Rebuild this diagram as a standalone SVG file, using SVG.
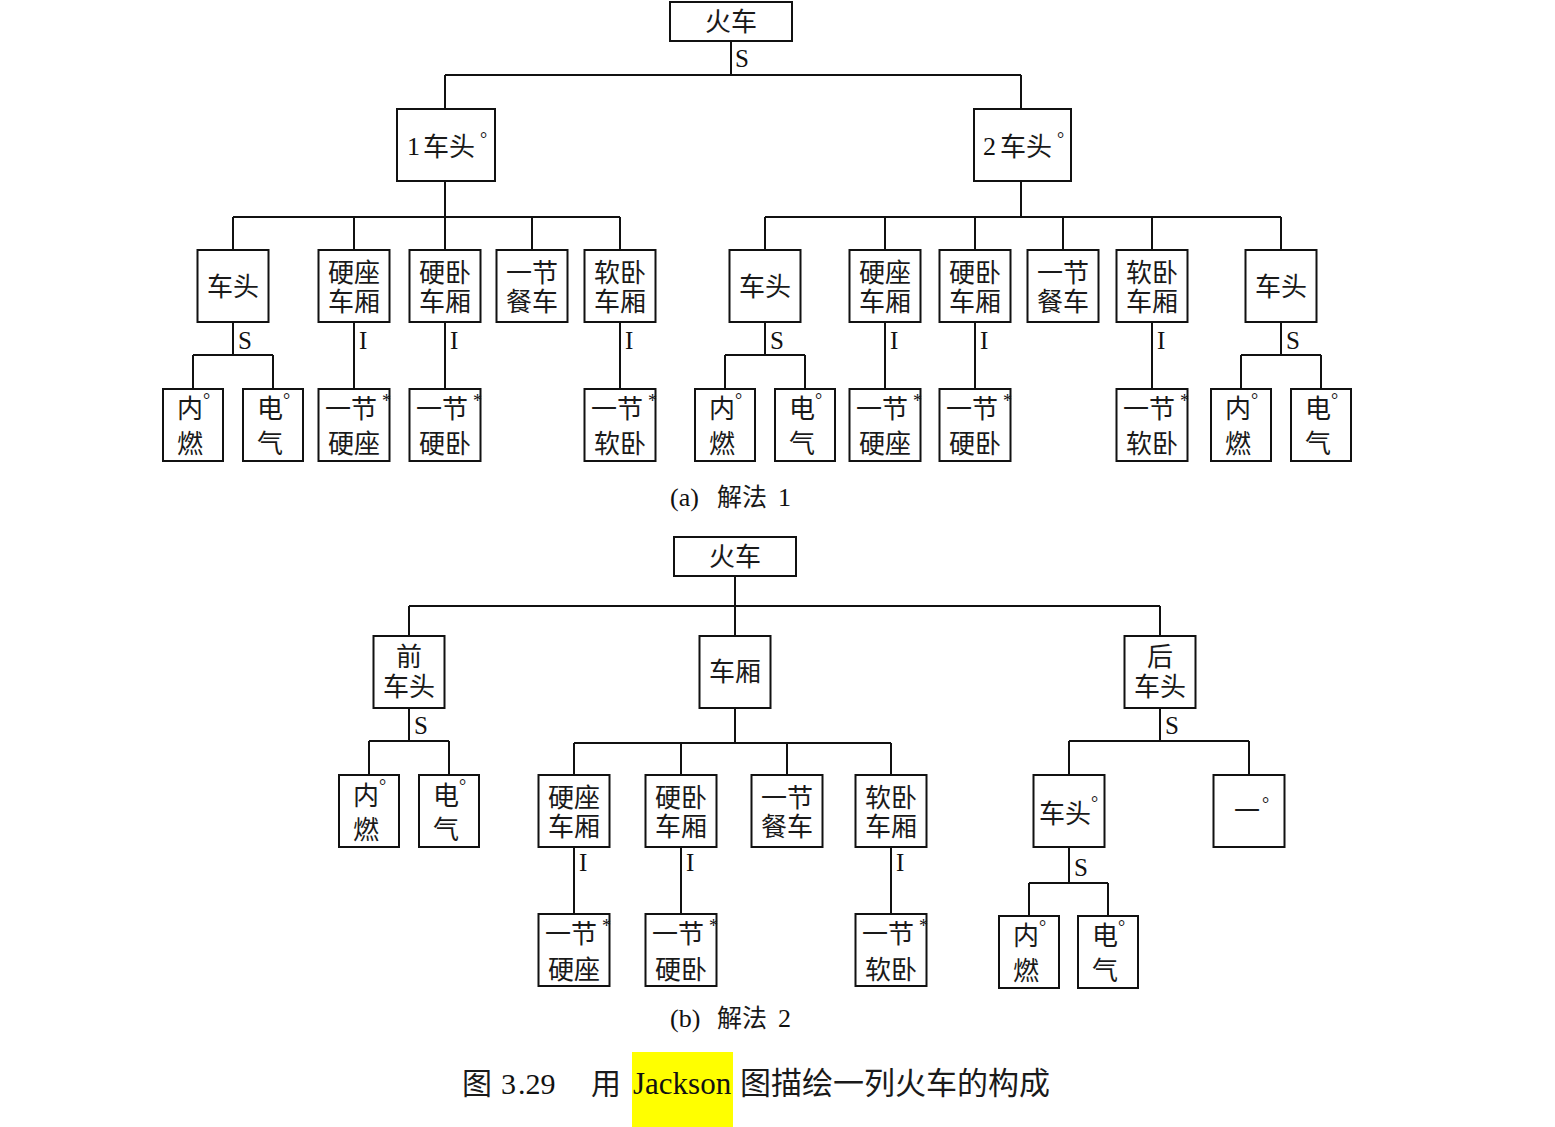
<svg xmlns="http://www.w3.org/2000/svg" width="1555" height="1127" viewBox="0 0 1555 1127">
<defs>
<style>
.box{fill:#fff;stroke:#111;stroke-width:2}
.ln{stroke:#111;stroke-width:2;fill:none}
.cjk{font-family:"Noto Sans CJK SC","Noto Sans CJK JP",sans-serif;font-size:26px;fill:#1a1a1a}
.lat{font-family:"Liberation Serif","Times New Roman",serif;font-size:26px;fill:#111}
.sup{font-family:"Liberation Serif",serif;font-size:18px;fill:#111}
.lbl{font-family:"Liberation Serif",serif;font-size:25px;fill:#111}
.mid{text-anchor:middle}
</style>
</defs>
<rect width="1555" height="1127" fill="#fff"/>

<g id="connectors">
<path class="ln" d="M731,41V75M445,75H1021M445,75V109M1021,75V109"/>
<path class="ln" d="M445,181V217M233,217H620M233,217V250M354,217V250M445,217V250M532,217V250M620,217V250"/>
<path class="ln" d="M1021,181V217M765,217H1281M765,217V250M885,217V250M975,217V250M1063,217V250M1152,217V250M1281,217V250"/>
<path class="ln" d="M233,322V355M193,355H273M193,355V389M273,355V389"/>
<path class="ln" d="M354,322V389M445,322V389M620,322V389"/>
<path class="ln" d="M765,322V355M725,355H805M725,355V389M805,355V389"/>
<path class="ln" d="M885,322V389M975,322V389M1152,322V389"/>
<path class="ln" d="M1281,322V355M1241,355H1321M1241,355V389M1321,355V389"/>
<path class="ln" d="M735,576V636M409,606H1160M409,606V636M1160,606V636"/>
<path class="ln" d="M409,708V741M369,741H449M369,741V775M449,741V775"/>
<path class="ln" d="M735,708V743M574,743H891M574,743V775M681,743V775M787,743V775M891,743V775"/>
<path class="ln" d="M574,847V914M681,847V914M891,847V914"/>
<path class="ln" d="M1160,708V741M1069,741H1249M1069,741V775M1249,741V775"/>
<path class="ln" d="M1069,847V883M1029,883H1108M1029,883V916M1108,883V916"/>
<text class="lbl" x="735" y="67">S</text>
<text class="lbl" x="238" y="349">S</text>
<text class="lbl" x="359" y="349">I</text>
<text class="lbl" x="450" y="349">I</text>
<text class="lbl" x="625" y="349">I</text>
<text class="lbl" x="770" y="349">S</text>
<text class="lbl" x="890" y="349">I</text>
<text class="lbl" x="980" y="349">I</text>
<text class="lbl" x="1157" y="349">I</text>
<text class="lbl" x="1286" y="349">S</text>
<text class="lbl" x="414" y="734">S</text>
<text class="lbl" x="579" y="871">I</text>
<text class="lbl" x="686" y="871">I</text>
<text class="lbl" x="896" y="871">I</text>
<text class="lbl" x="1165" y="734">S</text>
<text class="lbl" x="1074" y="876">S</text>
</g>

<g id="a-root"><rect class="box" x="670" y="2" width="122" height="39"/><text class="cjk mid" x="731" y="31">火车</text></g>
<g id="a-head1"><rect class="box" x="397" y="109" width="98" height="72"/><text class="lat" x="407" y="155">1</text><text class="cjk" x="423" y="156">车头</text><text class="sup" x="480" y="145">°</text></g>
<g id="a-head2"><rect class="box" x="974" y="109" width="97" height="72"/><text class="lat" x="983" y="155">2</text><text class="cjk" x="1000" y="156">车头</text><text class="sup" x="1057" y="145">°</text></g>

<g id="a1-loco"><rect class="box" x="197.5" y="250" width="71" height="72"/><text class="cjk mid" x="233" y="296">车头</text></g>
<g id="a1-hs"><rect class="box" x="318.5" y="250" width="71" height="72"/><text class="cjk mid" x="354" y="282">硬座</text><text class="cjk mid" x="354" y="311">车厢</text></g>
<g id="a1-hb"><rect class="box" x="409.5" y="250" width="71" height="72"/><text class="cjk mid" x="445" y="282">硬卧</text><text class="cjk mid" x="445" y="311">车厢</text></g>
<g id="a1-din"><rect class="box" x="496.5" y="250" width="71" height="72"/><text class="cjk mid" x="532" y="282">一节</text><text class="cjk mid" x="532" y="311">餐车</text></g>
<g id="a1-sb"><rect class="box" x="584.5" y="250" width="71" height="72"/><text class="cjk mid" x="620" y="282">软卧</text><text class="cjk mid" x="620" y="311">车厢</text></g>

<g id="a1-diesel"><rect class="box" x="163" y="389" width="60" height="72"/><text class="cjk mid" x="190" y="418">内</text><text class="sup" x="203" y="406">°</text><text class="cjk mid" x="190" y="453">燃</text></g>
<g id="a1-elec"><rect class="box" x="243" y="389" width="60" height="72"/><text class="cjk mid" x="270" y="418">电</text><text class="sup" x="283" y="406">°</text><text class="cjk mid" x="270" y="453">气</text></g>
<g id="a1-hs1"><rect class="box" x="318.5" y="389" width="71" height="72"/><text class="cjk mid" x="351" y="418">一节</text><text class="sup" x="382" y="407">*</text><text class="cjk mid" x="354" y="453">硬座</text></g>
<g id="a1-hb1"><rect class="box" x="409.5" y="389" width="71" height="72"/><text class="cjk mid" x="442" y="418">一节</text><text class="sup" x="473" y="407">*</text><text class="cjk mid" x="445" y="453">硬卧</text></g>
<g id="a1-sb1"><rect class="box" x="584.5" y="389" width="71" height="72"/><text class="cjk mid" x="617" y="418">一节</text><text class="sup" x="648" y="407">*</text><text class="cjk mid" x="620" y="453">软卧</text></g>

<g id="a2-loco"><rect class="box" x="729.5" y="250" width="71" height="72"/><text class="cjk mid" x="765" y="296">车头</text></g>
<g id="a2-hs"><rect class="box" x="849.5" y="250" width="71" height="72"/><text class="cjk mid" x="885" y="282">硬座</text><text class="cjk mid" x="885" y="311">车厢</text></g>
<g id="a2-hb"><rect class="box" x="939.5" y="250" width="71" height="72"/><text class="cjk mid" x="975" y="282">硬卧</text><text class="cjk mid" x="975" y="311">车厢</text></g>
<g id="a2-din"><rect class="box" x="1027.5" y="250" width="71" height="72"/><text class="cjk mid" x="1063" y="282">一节</text><text class="cjk mid" x="1063" y="311">餐车</text></g>
<g id="a2-sb"><rect class="box" x="1116.5" y="250" width="71" height="72"/><text class="cjk mid" x="1152" y="282">软卧</text><text class="cjk mid" x="1152" y="311">车厢</text></g>
<g id="a2-loco2"><rect class="box" x="1245.5" y="250" width="71" height="72"/><text class="cjk mid" x="1281" y="296">车头</text></g>

<g id="a2-diesel"><rect class="box" x="695" y="389" width="60" height="72"/><text class="cjk mid" x="722" y="418">内</text><text class="sup" x="735" y="406">°</text><text class="cjk mid" x="722" y="453">燃</text></g>
<g id="a2-elec"><rect class="box" x="775" y="389" width="60" height="72"/><text class="cjk mid" x="802" y="418">电</text><text class="sup" x="815" y="406">°</text><text class="cjk mid" x="802" y="453">气</text></g>
<g id="a2-hs1"><rect class="box" x="849.5" y="389" width="71" height="72"/><text class="cjk mid" x="882" y="418">一节</text><text class="sup" x="913" y="407">*</text><text class="cjk mid" x="885" y="453">硬座</text></g>
<g id="a2-hb1"><rect class="box" x="939.5" y="389" width="71" height="72"/><text class="cjk mid" x="972" y="418">一节</text><text class="sup" x="1003" y="407">*</text><text class="cjk mid" x="975" y="453">硬卧</text></g>
<g id="a2-sb1"><rect class="box" x="1116.5" y="389" width="71" height="72"/><text class="cjk mid" x="1149" y="418">一节</text><text class="sup" x="1180" y="407">*</text><text class="cjk mid" x="1152" y="453">软卧</text></g>
<g id="a2-diesel2"><rect class="box" x="1211" y="389" width="60" height="72"/><text class="cjk mid" x="1238" y="418">内</text><text class="sup" x="1251" y="406">°</text><text class="cjk mid" x="1238" y="453">燃</text></g>
<g id="a2-elec2"><rect class="box" x="1291" y="389" width="60" height="72"/><text class="cjk mid" x="1318" y="418">电</text><text class="sup" x="1331" y="406">°</text><text class="cjk mid" x="1318" y="453">气</text></g>

<text id="cap-a" y="506"><tspan class="lat" x="670">(a)</tspan><tspan class="cjk" x="717" style="font-size:25px">解法</tspan><tspan class="lat" x="778">1</tspan></text>

<g id="b-root"><rect class="box" x="674" y="537" width="122" height="39"/><text class="cjk mid" x="735" y="566">火车</text></g>
<g id="b-front"><rect class="box" x="373.5" y="636" width="71" height="72"/><text class="cjk mid" x="409" y="666">前</text><text class="cjk mid" x="409" y="696">车头</text></g>
<g id="b-cars"><rect class="box" x="699.5" y="636" width="71" height="72"/><text class="cjk mid" x="735" y="681">车厢</text></g>
<g id="b-rear"><rect class="box" x="1124.5" y="636" width="71" height="72"/><text class="cjk mid" x="1160" y="666">后</text><text class="cjk mid" x="1160" y="696">车头</text></g>

<g id="b-f-diesel"><rect class="box" x="339" y="775" width="60" height="72"/><text class="cjk mid" x="366" y="805">内</text><text class="sup" x="379" y="792">°</text><text class="cjk mid" x="366" y="839">燃</text></g>
<g id="b-f-elec"><rect class="box" x="419" y="775" width="60" height="72"/><text class="cjk mid" x="446" y="805">电</text><text class="sup" x="459" y="792">°</text><text class="cjk mid" x="446" y="839">气</text></g>

<g id="b-hs"><rect class="box" x="538.5" y="775" width="71" height="72"/><text class="cjk mid" x="574" y="807">硬座</text><text class="cjk mid" x="574" y="836">车厢</text></g>
<g id="b-hb"><rect class="box" x="645.5" y="775" width="71" height="72"/><text class="cjk mid" x="681" y="807">硬卧</text><text class="cjk mid" x="681" y="836">车厢</text></g>
<g id="b-din"><rect class="box" x="751.5" y="775" width="71" height="72"/><text class="cjk mid" x="787" y="807">一节</text><text class="cjk mid" x="787" y="836">餐车</text></g>
<g id="b-sb"><rect class="box" x="855.5" y="775" width="71" height="72"/><text class="cjk mid" x="891" y="807">软卧</text><text class="cjk mid" x="891" y="836">车厢</text></g>

<g id="b-hs1"><rect class="box" x="538.5" y="914" width="71" height="72"/><text class="cjk mid" x="571" y="943">一节</text><text class="sup" x="602" y="932">*</text><text class="cjk mid" x="574" y="979">硬座</text></g>
<g id="b-hb1"><rect class="box" x="645.5" y="914" width="71" height="72"/><text class="cjk mid" x="678" y="943">一节</text><text class="sup" x="709" y="932">*</text><text class="cjk mid" x="681" y="979">硬卧</text></g>
<g id="b-sb1"><rect class="box" x="855.5" y="914" width="71" height="72"/><text class="cjk mid" x="888" y="943">一节</text><text class="sup" x="919" y="932">*</text><text class="cjk mid" x="891" y="979">软卧</text></g>

<g id="b-r-loco"><rect class="box" x="1033.5" y="775" width="71" height="72"/><text class="cjk mid" x="1065" y="823">车头</text><text class="sup" x="1091" y="809">°</text></g>
<g id="b-r-none"><rect class="box" x="1213.5" y="775" width="71" height="72"/><text class="cjk mid" x="1247" y="820">一</text><text class="sup" x="1262" y="810">°</text></g>
<g id="b-r-diesel"><rect class="box" x="999" y="916" width="60" height="72"/><text class="cjk mid" x="1026" y="945">内</text><text class="sup" x="1039" y="933">°</text><text class="cjk mid" x="1026" y="980">燃</text></g>
<g id="b-r-elec"><rect class="box" x="1078" y="916" width="60" height="72"/><text class="cjk mid" x="1105" y="945">电</text><text class="sup" x="1118" y="933">°</text><text class="cjk mid" x="1105" y="980">气</text></g>

<text id="cap-b" y="1027"><tspan class="lat" x="670">(b)</tspan><tspan class="cjk" x="717" style="font-size:25px">解法</tspan><tspan class="lat" x="778">2</tspan></text>

<rect x="632" y="1052" width="101" height="75" fill="#ffff00"/>
<text id="caption" y="1094" style="font-family:'Liberation Serif',serif;font-size:30px;fill:#111"><tspan class="cjk" x="462" style="font-size:30px">图</tspan><tspan x="501" style="font-family:'Liberation Serif',serif">3</tspan><tspan x="518" style="font-family:'Liberation Serif',serif">.29</tspan><tspan class="cjk" x="591" style="font-size:30px">用</tspan><tspan x="633" style="font-family:'Liberation Serif',serif;font-size:31px">Jackson</tspan><tspan class="cjk" x="740" style="font-size:31px">图描绘一列火车的构成</tspan></text>
</svg>
